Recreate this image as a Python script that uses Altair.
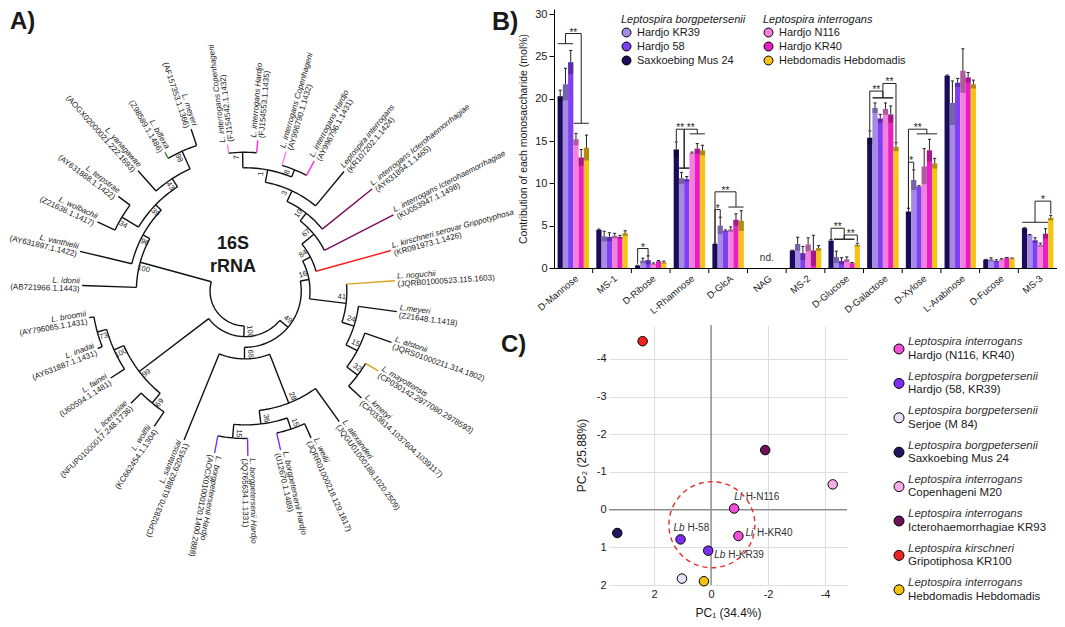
import json
import math
import numpy as np
import pandas as pd
import altair as alt

FONT = "Liberation Sans"
INK = "#1a1a1a"

# =====================================================================
# Panel A : 16S rRNA tree (leaves listed clockwise, starting at the top)
# =====================================================================
leaf_names = [
    "L. interrogans Copenhageni", "L. interrogans Hardjo",
    "L. interrogans Copenhageni", "L. interrogans Hardjo",
    "Leptospira interrogans", "L. interrogans Icterohaemorrhagiae",
    "L. interrogans Icterohaemorrhagiae", "L. kirschneri serovar Grippotyphosa",
    "L. noguchii", "L.meyeri", "L. alstonii", "L. mayottensis", "L. kmetyi",
    "L. alexanderi", "L. weilii", "L. borgpetersenii Hardjo",
    "L. borgpetersenii Hardjo", "L. borgpetersenii Hardjo", "L. santarosai",
    "L. wolffii", "L. licerasiae", "L. fainei", "L. inadai", "L. broomii",
    "L. idonii", "L. vanthielii", "L. wolbachii", "L. terpstrae",
    "L. yanagawae", "L. biflexa", "L. meyeri",
]
leaf_acc = [
    "(FJ154542.1.1432)", "(FJ154553.1.1435)", "(AY996790.1.1432)",
    "(AY996796.1.1431)", "(KR107202.1.1424)", "(AY631894.1.1465)",
    "(KU053947.1.1498)", "(KR091973.1.1426)", "(JQRB01000523.115.1603)",
    "(Z21648.1.1418)", "(JQRS01000211.314.1802)", "(CP030142.2977080.2978593)",
    "(CP033614.1037604.1039117)", "(JQGU01000188.1020.2509)",
    "(JQRR01000218.129.1617)", "(U12670.1.1489)", "(JQ765634.1.1331)",
    "(AOCX01000120.1400.2888)", "(CP028370.618862.620451)", "(KC662454.1.1304)",
    "(NFUP01000017.248.1736)", "(U60594.1.1481)", "(AY631887.1.1431)",
    "(AY796065.1.1431)", "(AB721966.1.1443)", "(AY631897.1.1422)",
    "(Z21638.1.1417)", "(AY631888.1.1422)", "(AOGX02000021.222.1693)",
    "(Z98589.1.1486)", "(AF157353.1.1366)",
]
leaf_depth = [152, 156, 150, 152, 160, 168, 172, 156, 155, 158, 160, 160, 163,
              166, 166, 168, 170, 170, 166, 168, 165, 165, 163, 163, 168, 175,
              168, 163, 166, 165, 176]
leaf_color = ["#ff80e6", "#ff2bcf", "#ff80e6", "#ff2bcf", "#111111", "#7a0a5c",
              "#7a0a5c", "#ff1a1a", "#d9a21b", "#111111", "#111111", "#d9a21b",
              "#111111", "#111111", "#111111", "#7b2cff", "#7b2cff", "#7b2cff",
              "#111111", "#111111", "#111111", "#111111", "#111111", "#111111",
              "#111111", "#111111", "#111111", "#111111", "#111111", "#2e8b2e",
              "#111111"]

node_ids = ["root", "n100", "n49", "n16", "n84", "n67", "n10", "n3", "n1", "n7",
            "n8", "n41", "n24", "n15b", "n32", "n68", "n28", "n36", "n15r",
            "n15l", "n99", "n69", "n100i", "n73", "s100", "n96", "n39", "n34",
            "n43", "n98"]
node_children = [
    ["n100", "s100"], ["n49", "n99"], ["n16", "n68"], ["n84", "n41"],
    ["n67", "L7"], ["n10", "L6"], ["n3", "L5"], ["n1", "L4"], ["n7", "n8"],
    ["L0", "L1"], ["L2", "L3"], ["L8", "n24"], ["L9", "n15b"], ["L10", "n32"],
    ["L11", "L12"], ["n28", "L18"], ["L13", "n36"], ["n15r", "n15l"],
    ["L14", "L15"], ["L16", "L17"], ["n69", "n100i"], ["L19", "L20"],
    ["L21", "n73"], ["L22", "L23"], ["L24", "n96"], ["L25", "n39"],
    ["n34", "n43"], ["L26", "L27"], ["L28", "n98"], ["L29", "L30"],
]
node_depth = [36, 47, 58, 67, 76, 92, 102, 114, 127, 143, 135, 105, 118, 131,
              145, 70, 124, 138, 150, 152, 137, 150, 148, 158, 112, 120, 128,
              148, 138, 158]
node_support = ["", "100", "49", "16", "84", "67", "10", "3", "1", "7", "8",
                "41", "24", "15", "32", "68", "28", "36", "15", "15", "99", "69",
                "100", "73", "100", "96", "39", "34", "43", "98"]

# layout of the circular tree
W_A, H_ALL = 430, 611
CX, CY = 236, 282          # tree centre inside panel A (px)
SC = 0.97
START, STEP = 96.8, 360.0 / 31

leaf_ang = [START - STEP * i for i in range(len(leaf_names))]
nodes = {k: (c, d, s) for k, c, d, s in zip(node_ids, node_children, node_depth, node_support)}


def ang(k):
    if k.startswith("L"):
        return leaf_ang[int(k[1:])]
    ch = nodes[k][0]
    return (ang(ch[0]) + ang(ch[-1])) / 2.0


def dep(k):
    return leaf_depth[int(k[1:])] if k.startswith("L") else nodes[k][1]


def pol(r, a):
    t = math.radians(a)
    return SC * r * math.cos(t), SC * r * math.sin(t)


edge_rows = []
sid = 0
for nid, (ch, r, sup) in nodes.items():
    a0, a1 = ang(ch[0]), ang(ch[-1])
    n = max(2, int(abs(a1 - a0) / 1.5) + 2)
    for j, a in enumerate(np.linspace(a0, a1, n)):
        x, y = pol(r, a)
        edge_rows.append(dict(seg=sid, k=j, x=x, y=y, col="#111111"))
    sid += 1
    for c in ch:
        ac = ang(c)
        col = leaf_color[int(c[1:])] if c.startswith("L") else "#111111"
        for j, rr in enumerate([r, dep(c)]):
            x, y = pol(rr, ac)
            edge_rows.append(dict(seg=sid, k=j, x=x, y=y, col=col))
        sid += 1
edges = pd.DataFrame(edge_rows)

lab_rows = []
for i, (nm, ac_) in enumerate(zip(leaf_names, leaf_acc)):
    a = leaf_ang[i]
    x, y = pol(leaf_depth[i] + 2.5, a)
    right = a > -106
    rot = (-a) % 360 if right else (180 - a) % 360
    lab_rows.append(dict(x=x, y=y, rot=rot, name=nm, acc=ac_, side="R" if right else "L"))
labs = pd.DataFrame(lab_rows)

boot_rows = []
for nid, (ch, r, sup) in nodes.items():
    if not sup:
        continue
    a = ang(nid)
    rr = r - 5
    aa = a + math.degrees(6.0 / rr)
    x, y = pol(rr, aa)
    rot = (-aa) % 360 if aa > -106 else (180 - aa) % 360
    boot_rows.append(dict(x=x, y=y, rot=rot, t=sup))
boots = pd.DataFrame(boot_rows)

TX = alt.Scale(domain=[-CX, W_A - CX], nice=False, zero=False)
TY = alt.Scale(domain=[-(H_ALL - CY), CY], nice=False, zero=False)


def tx(f="x"):
    return alt.X(f"{f}:Q", scale=TX, axis=None)


def ty(f="y"):
    return alt.Y(f"{f}:Q", scale=TY, axis=None)


tree_lines = alt.Chart(edges).mark_line(strokeWidth=1.4).encode(
    x=tx(), y=ty(), detail="seg:N", order="k:Q",
    color=alt.Color("col:N", scale=None))

tree_layers = [tree_lines]
for side, al in (("R", "left"), ("L", "right")):
    d = labs[labs.side == side]
    tree_layers.append(alt.Chart(d).mark_text(
        align=al, baseline="bottom", fontSize=8, fontStyle="italic", color=INK).encode(
        x=tx(), y=ty(), text="name:N", angle=alt.Angle("rot:Q", scale=None)))
    tree_layers.append(alt.Chart(d).mark_text(
        align=al, baseline="top", fontSize=8, color=INK).encode(
        x=tx(), y=ty(), text="acc:N", angle=alt.Angle("rot:Q", scale=None)))
tree_layers.append(alt.Chart(boots).mark_text(
    align="center", baseline="middle", fontSize=7.5, color=INK).encode(
    x=tx(), y=ty(), text="t:N", angle=alt.Angle("rot:Q", scale=None)))
centre_txt = pd.DataFrame({"x": [-12, -12], "y": [47, 24], "t": ["16S", "rRNA"]})
tree_layers.append(alt.Chart(centre_txt).mark_text(
    fontSize=18, fontWeight="bold", color=INK).encode(x=tx(), y=ty(), text="t:N"))
tree_layers.append(alt.Chart(pd.DataFrame({"t": ["A)"]})).mark_text(
    align="left", baseline="top", fontSize=24, fontWeight="bold", color=INK).encode(
    x=alt.value(1), y=alt.value(1), text="t:N"))
tree = alt.layer(*tree_layers).properties(width=W_A, height=H_ALL)

# =====================================================================
# Panel B : monosaccharide composition
# =====================================================================
categories = ["D-Mannose", "MS-1", "D-Ribose", "L-Rhamnose", "D-GlcA", "NAG",
              "MS-2", "D-Glucose", "D-Galactose", "D-Xylose", "L-Arabinose",
              "D-Fucose", "MS-3"]
strain_order = ["Saxkoebing Mus 24", "Hardjo KR39", "Hardjo 58",
                "Hardjo N116", "Hardjo KR40", "Hebdomadis Hebdomadis"]
borg_strains = ["Hardjo KR39", "Hardjo 58", "Saxkoebing Mus 24"]
borg_colors = ["#a58be6", "#7f3ff2", "#1b0c5a"]
intr_strains = ["Hardjo N116", "Hardjo KR40", "Hebdomadis Hebdomadis"]
intr_colors = ["#f47fdc", "#e91fc4", "#f6c416"]

val_sax = [20.3, 4.5, 0.27, 14.0, 2.84, None, 2.06, 3.23, 15.4, 6.66, 22.7, 0.97, 4.71]
val_kr39 = [21.7, 3.74, 0.86, 10.6, 5.0, None, 2.84, 1.29, 18.9, 10.4, 19.5, 1.0, 3.9]
val_h58 = [24.3, 3.66, 0.93, 10.5, 4.4, None, 1.75, 0.82, 17.65, 9.62, 21.9, 0.82, 3.27]
val_n116 = [15.2, 3.8, 0.5, 13.6, 4.56, None, 2.77, 1.01, 18.8, 12.0, 23.3, 1.0, 2.73]
val_kr40 = [13.05, 3.66, 0.78, 14.1, 5.7, None, 2.06, 0.55, 18.15, 13.9, 22.5, 1.2, 4.05]
val_hebd = [14.2, 4.1, 0.66, 13.9, 5.57, None, 2.34, 2.73, 14.3, 12.35, 21.7, 1.13, 5.92]

err_sax = [0.7, 0.1, 0.05, 0.9, 0.1, None, 0.05, 0.15, 0.8, 0.4, 0.1, 0.05, 0.05]
err_kr39 = [1.9, 0.6, 0.3, 0.7, 1.0, None, 0.8, 0.7, 0.6, 1.2, 2.6, 0.2, 0.05]
err_h58 = [1.4, 0.5, 0.5, 0.3, 0.1, None, 0.8, 0.4, 0.5, 0.1, 0.5, 0.15, 0.3]
err_n116 = [0.7, 0.3, 0.1, 0.1, 0.3, None, 0.8, 0.3, 0.7, 2.1, 2.6, 0.1, 0.2]
err_kr40 = [0.95, 0.2, 0.1, 0.6, 0.7, None, 1.8, 0.1, 1.0, 1.3, 0.6, 0.05, 0.6]
err_hebd = [1.5, 0.3, 0.15, 0.6, 1.2, None, 0.3, 0.2, 0.5, 0.6, 0.5, 0.05, 0.3]

# significance brackets: group, barsA, levelA, barsB, levelB, top, label
brackets = [
    (0, (0, 2), 26.5, (3, 5), 17.1, 27.7, "**"),
    (2, (0, 0), 0.5, (2, 2), 1.4, 2.3, "*"),
    (3, (0, 0), 15.0, (1, 2), 11.8, 16.4, "**"),
    (3, (1, 2), 11.8, (3, 5), 15.85, 16.4, "**"),
    (4, (0, 0), 3.0, (1, 1), 6.0, 6.9, "*"),
    (4, (0, 0), 3.0, (3, 5), 7.2, 9.0, "**"),
    (7, (0, 0), 3.4, (1, 4), 3.4, 4.7, "**"),
    (7, (1, 4), 3.4, (5, 5), 3.1, 3.9, "**"),
    (8, (0, 0), 16.3, (1, 4), 20.1, 20.9, "**"),
    (8, (1, 4), 20.1, (5, 5), 14.9, 21.8, "**"),
    (9, (0, 0), 7.0, (1, 1), 11.7, 12.5, "*"),
    (9, (0, 0), 7.0, (2, 5), 15.85, 16.4, "**"),
    (12, (0, 4), 5.4, (5, 5), 6.4, 7.9, "*"),
]

vals = dict(zip(strain_order, [val_sax, val_kr39, val_h58, val_n116, val_kr40, val_hebd]))
errs = dict(zip(strain_order, [err_sax, err_kr39, err_h58, err_n116, err_kr40, err_hebd]))

GW = 0.8133
BW = GW / 6
rows = []
for j, s in enumerate(strain_order):
    for g, c in enumerate(categories):
        v, e = vals[s][g], errs[s][g]
        if v is None:
            continue
        x0 = g - GW / 2 + j * BW
        rows.append(dict(strain=s, g=g, x0=x0, x1=x0 + BW, xc=x0 + BW / 2,
                         c0=x0 + BW * 0.2, c1=x0 + BW * 0.8, v=v, lo=v - e,
                         hi=v + e, zero=0.0))
bdf = pd.DataFrame(rows)
nd_df = pd.DataFrame({"g": [g for g, c in enumerate(categories) if vals[strain_order[0]][g] is None],
                      "y": [1.2], "t": ["nd."]})


def bcx(g, j):
    return g - GW / 2 + (j + 0.5) * BW


seg_rows, star_rows = [], []
for g, (a0, a1), ha, (b0, b1), hb, top, lab in brackets:
    xa = (bcx(g, a0) + bcx(g, a1)) / 2
    xb = (bcx(g, b0) + bcx(g, b1)) / 2
    if a1 > a0:
        seg_rows.append((bcx(g, a0) - BW * 0.45, bcx(g, a1) + BW * 0.45, ha, ha))
    if b1 > b0:
        seg_rows.append((bcx(g, b0) - BW * 0.45, bcx(g, b1) + BW * 0.45, hb, hb))
    seg_rows += [(xa, xa, ha, top), (xb, xb, hb, top), (xa, xb, top, top)]
    star_rows.append(dict(x=(xa + xb) / 2, y=top, t=lab))
segdf = pd.DataFrame(seg_rows, columns=["x", "x2", "y", "y2"])
stardf = pd.DataFrame(star_rows)
tickdf = pd.DataFrame({"x": [g + 0.5 for g in range(len(categories) - 1)], "y": 0.0, "y2": -0.6})

W_B, H_B = 503, 259
XB = alt.Scale(domain=[-0.5, len(categories) - 0.5], nice=False, zero=False)
YB = alt.Scale(domain=[0, 30.6], nice=False, zero=True)
XB_AX = alt.Axis(values=list(range(len(categories))),
                 labelExpr=json.dumps(categories) + "[datum.value]",
                 labelAngle=-40, labelFontSize=9.5, ticks=False, grid=False,
                 labelOverlap=False, labelBound=False,
                 domainColor="black", labelPadding=5, labelColor=INK, title=None)
YB_AX = alt.Axis(values=[0, 5, 10, 15, 20, 25, 30],
                 title="Contribution of each monosaccharide (mol%)",
                 titleFontSize=10.5, titleFontWeight="normal", titlePadding=6,
                 labelFontSize=11, tickSize=5, domainColor="black",
                 tickColor="black", grid=False, labelPadding=2,
                 labelColor=INK, titleColor=INK)


def bx(f):
    return alt.X(f"{f}:Q", scale=XB, axis=XB_AX)


def by(f):
    return alt.Y(f"{f}:Q", scale=YB, axis=YB_AX)


def bar_legend(title, lx):
    return alt.Legend(title=title, orient="none", legendX=lx, legendY=5,
                      symbolType="circle", symbolSize=80, symbolStrokeColor="black",
                      symbolStrokeWidth=1, labelFontSize=11, titleFontSize=11,
                      titleFontStyle="italic", titleFontWeight="normal",
                      titlePadding=2, rowPadding=1, labelOffset=5,
                      titleColor=INK, labelColor=INK, padding=0)


bars_b = alt.Chart(bdf[bdf.strain.isin(borg_strains)]).mark_rect().encode(
    x=bx("x0"), x2="x1", y=by("v"), y2="zero",
    color=alt.Color("strain:N", scale=alt.Scale(domain=borg_strains, range=borg_colors),
                    legend=bar_legend("Leptospira borgpetersenii", 67)))
bars_i = alt.Chart(bdf[bdf.strain.isin(intr_strains)]).mark_rect().encode(
    x=bx("x0"), x2="x1", y=by("v"), y2="zero",
    color=alt.Color("strain:N", scale=alt.Scale(domain=intr_strains, range=intr_colors),
                    legend=bar_legend("Leptospira interrogans", 209)))
err_box = alt.Chart(bdf).mark_rect(color="black", opacity=0.28).encode(
    x=bx("x0"), x2="x1", y=by("lo"), y2="v")
err_line = alt.Chart(bdf).mark_rule(color="#222222", strokeWidth=1).encode(
    x=bx("xc"), y=by("v"), y2="hi")
err_cap = alt.Chart(bdf).mark_rule(color="#222222", strokeWidth=1).encode(
    x=bx("c0"), x2="c1", y=by("hi"))
br_lines = alt.Chart(segdf).mark_rule(color="#222222", strokeWidth=1).encode(
    x=bx("x"), x2="x2", y=by("y"), y2="y2")
br_stars = alt.Chart(stardf).mark_text(fontSize=10, color=INK, dy=2, baseline="alphabetic").encode(
    x=bx("x"), y=by("y"), text="t:N")
nd_txt = alt.Chart(nd_df).mark_text(fontSize=10, color="#333333").encode(
    x=bx("g"), y=by("y"), text="t:N")
b_ticks = alt.Chart(tickdf).mark_rule(color="black", strokeWidth=1).encode(
    x=bx("x"), y=by("y"), y2="y2")
b_label = alt.Chart(pd.DataFrame({"t": ["B)"]})).mark_text(
    align="left", baseline="top", fontSize=25, fontWeight="bold", color=INK).encode(
    x=alt.value(-62), y=alt.value(1), text="t:N")

bars = alt.layer(bars_b, bars_i, err_box, err_line, err_cap, br_lines, br_stars,
                 nd_txt, b_ticks, b_label).resolve_scale(color="independent").properties(
    width=W_B, height=H_B)

# =====================================================================
# Panel C : PCA
# =====================================================================
grp_species = ["Leptospira interrogans", "Leptospira borgpetersenii",
               "Leptospira borgpetersenii", "Leptospira borgpetersenii",
               "Leptospira interrogans", "Leptospira interrogans",
               "Leptospira kirschneri", "Leptospira interrogans"]
grp_strain = ["Hardjo (N116, KR40)", "Hardjo (58, KR39)", "Serjoe (M 84)",
              "Saxkoebing Mus 24", "Copenhageni M20", "Icterohaemorrhagiae KR93",
              "Gripotiphosa KR100", "Hebdomadis Hebdomadis"]
grp_color = ["#f14fd8", "#7c2ef4", "#e9e0f7", "#24165e", "#f6aee8", "#6e1257",
             "#ee2222", "#f4c20d"]

pt_group = [0, 0, 1, 1, 2, 3, 4, 5, 6, 7]
pt_pc1 = [-0.81, -0.96, 1.07, 0.10, 1.02, 3.29, -4.27, -1.90, 2.40, 0.25]
pt_pc2 = [-0.03, 0.70, 0.79, 1.09, 1.83, 0.62, -0.67, -1.58, -4.47, 1.90]

# labelled points: index into the point arrays, italic prefix, rest, placement
lab_point = [0, 1, 2, 3]
lab_prefix = ["Li", "Li", "Lb", "Lb"]
lab_suffix = ["H-N116", "H-KR40", "H-58", "H-KR39"]
lab_place = ["above", "right", "above-left", "below-right"]

circ_pc1 = [-0.03]
circ_pc2 = [0.40]

W_C, H_C = 238, 260
XC = alt.Scale(domain=[-4.77, 3.58], reverse=True, nice=False, zero=False)
YC = alt.Scale(domain=[-4.9, 2.0], reverse=True, nice=False, zero=False)
XC_AX = alt.Axis(values=[2, 0, -2, -4], labelExpr="'' + datum.value", grid=True,
                 gridColor="#dedede", domain=False, ticks=False, labelPadding=3,
                 labelFontSize=11, labelColor=INK, title="PC₁ (34.4%)",
                 titleFontSize=12, titleFontWeight="normal", titlePadding=8,
                 titleColor=INK)
YC_AX = alt.Axis(values=[-4, -3, -2, -1, 0, 1, 2], labelExpr="'' + datum.value",
                 grid=True, gridColor="#dedede", domain=False, ticks=False,
                 labelPadding=3, labelFontSize=11, labelColor=INK,
                 title="PC₂ (25.88%)", titleFontSize=12, titleFontWeight="normal",
                 titlePadding=8, titleColor=INK)


def cx(f):
    return alt.X(f"{f}:Q", scale=XC, axis=XC_AX)


def cy(f):
    return alt.Y(f"{f}:Q", scale=YC, axis=YC_AX)


pts = pd.DataFrame({"pc1": pt_pc1, "pc2": pt_pc2,
                    "col": [grp_color[g] for g in pt_group]})
zero_df = pd.DataFrame({"v": [0.0]})
vzero = alt.Chart(zero_df).mark_rule(color="#8c8c8c", strokeWidth=1.4).encode(x=cx("v"))
hzero = alt.Chart(zero_df).mark_rule(color="#8c8c8c", strokeWidth=1.4).encode(y=cy("v"))
circ = alt.Chart(pd.DataFrame({"pc1": circ_pc1, "pc2": circ_pc2})).mark_point(
    shape="circle", filled=False, size=86 ** 2, stroke="#ee2a2a", strokeWidth=1.4,
    strokeDash=[5, 4], opacity=1).encode(x=cx("pc1"), y=cy("pc2"))
dots = alt.Chart(pts).mark_circle(size=90, stroke="black", strokeWidth=1, opacity=1).encode(
    x=cx("pc1"), y=cy("pc2"), fill=alt.Fill("col:N", scale=None))

place_off = {"above": (0, -11.5), "right": (7, -3), "above-left": (-7, -11.5),
             "below-right": (6, 4.6)}
prefix_gap = {"Li": 11.5, "Lb": 14}
c_layers = [vzero, hzero, circ, dots]
for pi, pre, suf, plc in zip(lab_point, lab_prefix, lab_suffix, lab_place):
    d = pd.DataFrame({"pc1": [pt_pc1[pi]], "pc2": [pt_pc2[pi]], "a": [pre], "b": [suf]})
    ox, oy = place_off[plc]
    c_layers.append(alt.Chart(d).mark_text(
        align="left", baseline="middle", fontSize=10, fontStyle="italic",
        color="#333333", dx=ox, dy=oy).encode(x=cx("pc1"), y=cy("pc2"), text="a:N"))
    c_layers.append(alt.Chart(d).mark_text(
        align="left", baseline="middle", fontSize=10, color="#333333",
        dx=ox + prefix_gap[pre], dy=oy).encode(x=cx("pc1"), y=cy("pc2"), text="b:N"))
c_layers.append(alt.Chart(pd.DataFrame({"t": ["C)"]})).mark_text(
    align="left", baseline="top", fontSize=24, fontWeight="bold", color=INK).encode(
    x=alt.value(-108), y=alt.value(8), text="t:N"))
pca = alt.layer(*c_layers).properties(width=W_C, height=H_C)

# legend of panel C
leg = pd.DataFrame({"idx": list(range(len(grp_species))), "sp": grp_species,
                    "st": grp_strain, "col": grp_color})
LY = alt.Scale(domain=[-24 / 34.4, (H_C - 24) / 34.4], reverse=True, nice=False, zero=False)
leg_dots = alt.Chart(leg).mark_circle(size=100, stroke="black", strokeWidth=1, opacity=1).encode(
    x=alt.value(10), y=alt.Y("idx:Q", scale=LY, axis=None),
    fill=alt.Fill("col:N", scale=None))
leg_sp = alt.Chart(leg).mark_text(align="left", baseline="middle", fontSize=11.5,
                                  fontStyle="italic", color="#333333", dy=-6.7).encode(
    x=alt.value(19), y=alt.Y("idx:Q", scale=LY, axis=None), text="sp:N")
leg_st = alt.Chart(leg).mark_text(align="left", baseline="middle", fontSize=11.5,
                                  color=INK, dy=6.7).encode(
    x=alt.value(19), y=alt.Y("idx:Q", scale=LY, axis=None), text="st:N")
legend_c = alt.layer(leg_dots, leg_sp, leg_st).properties(width=168, height=H_C)

spacer = alt.Chart(pd.DataFrame({"t": [""]})).mark_text().encode(
    x=alt.value(0), y=alt.value(0), text="t:N").properties(width=13, height=H_C)

c_row = alt.hconcat(spacer, pca, legend_c, spacing=42, bounds="flush")
right_col = alt.vconcat(bars, c_row, spacing=57, bounds="flush")
chart = alt.hconcat(tree, right_col, spacing=115, bounds="flush", padding=0).configure(
    font=FONT).configure_view(stroke=None)

chart.save("out.html", embed_options={"renderer": "svg", "actions": False})
